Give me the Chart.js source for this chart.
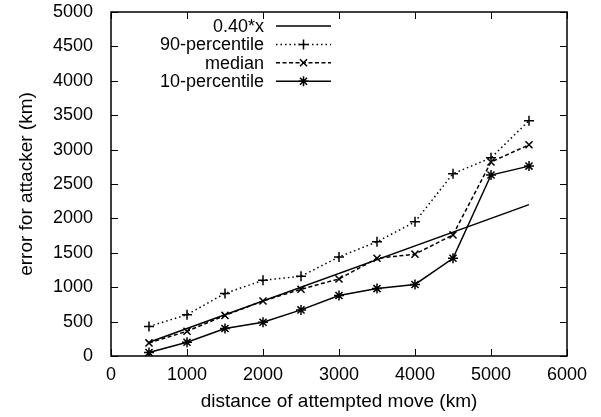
<!DOCTYPE html>
<html>
<head>
<meta charset="utf-8">
<script src="https://cdn.jsdelivr.net/npm/chart.js@4.4.1/dist/chart.umd.min.js"></script>
<style>
  html, body { margin: 0; padding: 0; background: #fff; }
  #wrap { width: 601px; height: 417px; }
</style>
</head>
<body>
<div id="wrap"><canvas id="chart" width="601" height="417"></canvas></div>
<script>
// distance of attempted move (km)
const distances = [500, 1000, 1500, 2000, 2500, 3000, 3500, 4000, 4500, 5000, 5500];

// error for attacker (km)
const p90 = [430, 600, 910, 1100, 1160, 1440, 1660, 1950, 2650, 2880, 3420];
const median = [190, 360, 590, 800, 970, 1120, 1420, 1480, 1760, 2820, 3070];
const p10 = [50, 200, 400, 490, 670, 880, 980, 1040, 1420, 2630, 2760];

// fitted line 0.40*x, end points only
const fitX = [500, 5500];
const fitY = [200, 2200];

const xTicks = [0, 1000, 2000, 3000, 4000, 5000, 6000];
const yTicks = [0, 500, 1000, 1500, 2000, 2500, 3000, 3500, 4000, 4500, 5000];

const FONT = '"Liberation Sans", Arial, Helvetica, sans-serif';
const FSIZE = 18;
const TSIZE = 19;

function pts(xs, ys) {
    return xs.map((x, i) => ({ x: x, y: ys[i] }));
}

// Frame with inward ticks on all four sides (gnuplot style)
const framePlugin = {
    id: 'frame',
    afterDraw(chart) {
        const { ctx, chartArea: a, scales } = chart;
        ctx.save();
        ctx.strokeStyle = '#000';
        ctx.lineWidth = 1.5;
        ctx.strokeRect(a.left, a.top, a.right - a.left, a.bottom - a.top);
        ctx.lineWidth = 1;
        ctx.beginPath();
        xTicks.forEach(v => {
            const px = Math.round(scales.x.getPixelForValue(v)) + 0.5;
            ctx.moveTo(px, a.bottom); ctx.lineTo(px, a.bottom - 7);
            ctx.moveTo(px, a.top); ctx.lineTo(px, a.top + 7);
        });
        yTicks.forEach(v => {
            const py = Math.round(scales.y.getPixelForValue(v)) + 0.5;
            ctx.moveTo(a.left, py); ctx.lineTo(a.left + 7, py);
            ctx.moveTo(a.right, py); ctx.lineTo(a.right - 7, py);
        });
        ctx.stroke();
        ctx.restore();
    }
};

// Legend: right-aligned labels with line sample to the right
const keyPlugin = {
    id: 'key',
    afterDraw(chart) {
        const ctx = chart.ctx;
        const textRight = 264, lineL = 276, lineR = 331;
        ctx.save();
        ctx.font = FSIZE + 'px ' + FONT;
        ctx.textAlign = 'right';
        ctx.textBaseline = 'middle';
        chart.data.datasets.forEach((ds, i) => {
            const y = 26 + i * 18.4;
            ctx.fillStyle = '#000';
            ctx.fillText(ds.label, textRight, y + 1);
            ctx.strokeStyle = '#000';
            ctx.lineWidth = ds.borderWidth;
            ctx.setLineDash(ds.borderDash || []);
            ctx.beginPath();
            ctx.moveTo(lineL, y); ctx.lineTo(lineR, y);
            ctx.stroke();
            ctx.setLineDash([]);
            if (ds.pointStyle && ds.pointRadius > 0) {
                Chart.helpers.drawPoint(ctx, {
                    pointStyle: ds.pointStyle,
                    radius: ds.pointRadius,
                    borderWidth: ds.pointBorderWidth
                }, (lineL + lineR) / 2, y);
            }
        });
        ctx.restore();
    }
};

new Chart(document.getElementById('chart'), {
    type: 'line',
    data: {
        datasets: [
            {
                label: '0.40*x',
                data: pts(fitX, fitY),
                borderColor: '#000',
                borderWidth: 1.5,
                pointRadius: 0,
                pointStyle: false
            },
            {
                label: '90-percentile',
                data: pts(distances, p90),
                borderColor: '#000',
                borderWidth: 1.5,
                borderDash: [1.5, 3],
                pointStyle: 'cross',
                pointRadius: 5,
                pointBorderWidth: 1.5,
                pointBorderColor: '#000'
            },
            {
                label: 'median',
                data: pts(distances, median),
                borderColor: '#000',
                borderWidth: 1.5,
                borderDash: [4, 2.5],
                pointStyle: 'crossRot',
                pointRadius: 5,
                pointBorderWidth: 1.5,
                pointBorderColor: '#000'
            },
            {
                label: '10-percentile',
                data: pts(distances, p10),
                borderColor: '#000',
                borderWidth: 1.5,
                pointStyle: 'star',
                pointRadius: 5,
                pointBorderWidth: 1.5,
                pointBorderColor: '#000'
            }
        ]
    },
    options: {
        responsive: false,
        animation: false,
        layout: { padding: { left: 0, right: 34, top: 12, bottom: 0 } },
        plugins: {
            legend: { display: false },
            tooltip: { enabled: false }
        },
        scales: {
            x: {
                type: 'linear',
                min: 0,
                max: 6000,
                afterBuildTicks: s => { s.ticks = xTicks.map(v => ({ value: v })); },
                afterFit: s => { s.height = 61; s.paddingLeft = 0; s.paddingRight = 0; },
                grid: { display: false },
                border: { display: false },
                ticks: { color: '#000', font: { family: FONT, size: FSIZE }, padding: 0, maxRotation: 0, callback: v => String(v) },
                title: { display: true, text: 'distance of attempted move (km)', color: '#000', font: { family: FONT, size: TSIZE }, padding: { top: 0, bottom: 3.5 } }
            },
            y: {
                type: 'linear',
                min: 0,
                max: 5000,
                afterBuildTicks: s => { s.ticks = yTicks.map(v => ({ value: v })); },
                afterFit: s => { s.width = 111; s.paddingTop = 0; s.paddingBottom = 0; },
                grid: { display: false },
                border: { display: false },
                ticks: { color: '#000', font: { family: FONT, size: FSIZE }, padding: 10, callback: v => String(v) },
                title: { display: true, text: 'error for attacker (km)', color: '#000', font: { family: FONT, size: TSIZE }, padding: { top: 15 } }
            }
        }
    },
    plugins: [framePlugin, keyPlugin]
});
</script>
</body>
</html>
